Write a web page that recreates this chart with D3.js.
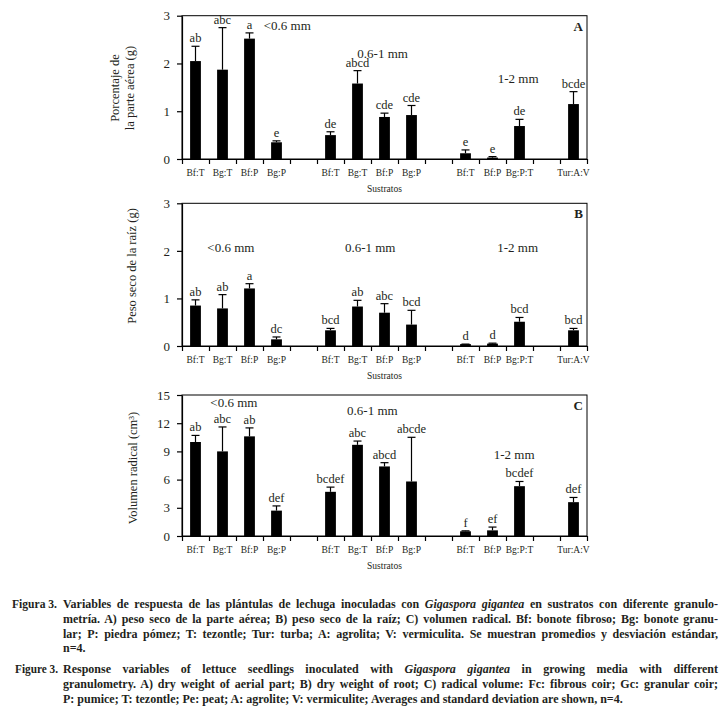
<!DOCTYPE html>
<meta charset="utf-8">
<svg width="723" height="716"></svg>
<script src="https://d3js.org/d3.v7.min.js"></script>
<style>
    body {
        margin: 0;
        background: #fff;
    }

    text {
        font-family: "Liberation Serif", "DejaVu Serif", serif;
        fill: #231f20;
    }

    .domain,
    line {
        stroke: #000;
    }
</style>
<script>
    // slot index of each bar on the x axis (gaps at 4, 9, 13)
    var slots = [0, 1, 2, 3, 5, 6, 7, 8, 10, 11, 12, 14];
    var tickLabels = ["Bf:T", "Bg:T", "Bf:P", "Bg:P", "Bf:T", "Bg:T", "Bf:P", "Bg:P", "Bf:T", "Bf:P", "Bg:P:T", "Tur:A:V"];
    var groupLabels = ["<0.6 mm", "0.6-1 mm", "1-2 mm"];

    // A) peso seco de la parte aérea
    var meanA = [2.05, 1.87, 2.52, 0.35, 0.50, 1.58, 0.88, 0.92, 0.12, 0.03, 0.69, 1.15];
    var sdA = [0.31, 0.88, 0.12, 0.03, 0.07, 0.27, 0.08, 0.20, 0.07, 0.02, 0.14, 0.26];
    var letA = ["ab", "abc", "a", "e", "de", "abcd", "cde", "cde", "e", "e", "de", "bcde"];

    // B) peso seco de la raíz
    var meanB = [0.85, 0.79, 1.21, 0.14, 0.33, 0.83, 0.70, 0.45, 0.04, 0.05, 0.51, 0.33];
    var sdB = [0.12, 0.29, 0.10, 0.05, 0.04, 0.13, 0.19, 0.30, 0.00, 0.01, 0.09, 0.04];
    var letB = ["ab", "ab", "a", "dc", "bcd", "ab", "abc", "bcd", "d", "d", "bcd", "bcd"];

    // C) volumen radical
    var meanC = [10.0, 9.0, 10.6, 2.7, 4.7, 9.7, 7.4, 5.8, 0.5, 0.6, 5.3, 3.6];
    var sdC = [0.7, 2.6, 0.9, 0.5, 0.5, 0.4, 0.4, 4.7, 0.05, 0.35, 0.5, 0.5];
    var letC = ["ab", "abc", "ab", "def", "bcdef", "abc", "abcd", "abcde", "f", "ef", "bcdef", "def"];

    var svg = d3.select("svg");
    svg.append("rect").attr("width", 723).attr("height", 716).attr("fill", "#fff");

    var x0 = 182, x1 = 587, nSlots = 15;
    var x = d3.scaleBand().domain(d3.range(nSlots)).range([x0, x1]).padding(0);
    var xb = d3.scaleLinear().domain([0, nSlots]).range([x0, x1]);
    var barW = x.bandwidth() * 0.4;

    var panels = [
        { id: "A", top: 15.7, bottom: 159, max: 3, ticks: [0, 1, 2, 3], mean: meanA, sd: sdA, let: letA,
          title: ["Porcentaje de", "la parte aérea (g)"], titleX: [119, 134], titleY: 88,
          groups: [[3.9, 2.7], [7.43, 2.12], [12.45, 1.6]] },
        { id: "B", top: 203.3, bottom: 346, max: 3, ticks: [0, 1, 2, 3], mean: meanB, sd: sdB, let: letB,
          title: ["Peso seco de la raíz (g)"], titleX: [136], titleY: 266,
          groups: [[1.81, 1.98], [6.97, 1.98], [12.43, 1.98]] },
        { id: "C", top: 395, bottom: 536, max: 15, ticks: [0, 3, 6, 9, 12, 15], mean: meanC, sd: sdC, let: letC,
          title: ["Volumen radical (cm³)"], titleX: [137], titleY: 468,
          groups: [[1.92, 13.75], [7.05, 12.9], [12.3, 8.2]] }
    ];

    panels.forEach(function (p) {
        var y = d3.scaleLinear().domain([0, p.max]).range([p.bottom, p.top]);
        var g = svg.append("g");

        // frame
        g.append("rect")
            .attr("x", x0).attr("y", p.top)
            .attr("width", x1 - x0).attr("height", p.bottom - p.top)
            .attr("fill", "none").attr("stroke", "#000").attr("stroke-width", 1);

        // bars
        g.selectAll(".bar").data(p.mean).enter().append("rect")
            .attr("x", function (d, i) { return x(slots[i]) + (x.bandwidth() - barW) / 2; })
            .attr("y", function (d) { return y(d); })
            .attr("width", barW)
            .attr("height", function (d) { return y(0) - y(d); })
            .attr("fill", "#000");

        // error bars (upper only)
        var eb = g.selectAll(".err").data(p.mean).enter().append("g");
        eb.append("line")
            .attr("x1", function (d, i) { return x(slots[i]) + x.bandwidth() / 2; })
            .attr("x2", function (d, i) { return x(slots[i]) + x.bandwidth() / 2; })
            .attr("y1", function (d) { return y(d); })
            .attr("y2", function (d, i) { return y(d + p.sd[i]); })
            .attr("stroke-width", 1.2);
        eb.append("line")
            .attr("x1", function (d, i) { return x(slots[i]) + x.bandwidth() / 2 - 4; })
            .attr("x2", function (d, i) { return x(slots[i]) + x.bandwidth() / 2 + 4; })
            .attr("y1", function (d, i) { return y(d + p.sd[i]); })
            .attr("y2", function (d, i) { return y(d + p.sd[i]); })
            .attr("stroke-width", 1.2);

        // significance letters
        g.selectAll(".let").data(p.let).enter().append("text")
            .attr("x", function (d, i) { return x(slots[i]) + x.bandwidth() / 2; })
            .attr("y", function (d, i) { return y(p.mean[i] + p.sd[i]) - 4; })
            .attr("text-anchor", "middle")
            .attr("font-size", "12.5px")
            .text(function (d) { return d; });

        // granulometry labels
        g.selectAll(".grp").data(groupLabels).enter().append("text")
            .attr("x", function (d, i) { return xb(p.groups[i][0]); })
            .attr("y", function (d, i) { return y(p.groups[i][1]); })
            .attr("text-anchor", "middle")
            .attr("font-size", "13px")
            .text(function (d) { return d; });

        // panel letter
        g.append("text")
            .attr("x", x1 - 4).attr("y", p.top + 15)
            .attr("text-anchor", "end")
            .attr("font-size", "13px")
            .attr("font-weight", "bold")
            .text(p.id);

        // y axis
        var ya = g.append("g")
            .attr("transform", "translate(" + x0 + ",0)")
            .call(d3.axisLeft(y).tickValues(p.ticks).tickFormat(d3.format("d"))
                .tickSize(5).tickSizeOuter(0).tickPadding(7));
        ya.selectAll("text").attr("font-size", "13px").attr("font-family", null);
        ya.selectAll("line").attr("stroke-width", 1.2);
        ya.select(".domain").attr("stroke-width", 1.2);

        // x axis: ticks at slot boundaries
        var xa = g.append("g")
            .attr("transform", "translate(0," + p.bottom + ")")
            .call(d3.axisBottom(xb).tickValues(d3.range(nSlots + 1)).tickSize(5).tickSizeOuter(0).tickFormat(""));
        xa.selectAll("line").attr("stroke-width", 1.2);
        xa.select(".domain").attr("stroke-width", 1.2);

        // x labels at slot centres
        var xl = g.append("g")
            .attr("transform", "translate(0," + p.bottom + ")")
            .call(d3.axisBottom(x).tickValues(slots).tickSize(0).tickPadding(10)
                .tickFormat(function (s) { return tickLabels[slots.indexOf(s)]; }));
        xl.select(".domain").remove();
        xl.selectAll("text").attr("font-size", "9.5px").attr("font-family", null);

        g.append("text")
            .attr("x", (x0 + x1) / 2).attr("y", p.bottom + 33)
            .attr("text-anchor", "middle")
            .attr("font-size", "9.5px")
            .text("Sustratos");

        // y title
        p.title.forEach(function (t, i) {
            g.append("text")
                .attr("transform", "translate(" + p.titleX[i] + "," + p.titleY + ") rotate(-90)")
                .attr("text-anchor", "middle")
                .attr("font-size", "12.5px")
                .text(t);
        });
    });

    // caption
    var cap = svg.append("g").attr("font-size", "12px").attr("font-weight", "bold");
    var capX = 63, capR = 718;
    var lines = [
        { y: 608, just: true, parts: [["Variables de respuesta de las plántulas de lechuga inoculadas con "], ["Gigaspora gigantea", 1], [" en sustratos con diferente granulo-"]] },
        { y: 623, just: true, parts: [["metría. A) peso seco de la parte aérea; B) peso seco de la raíz; C) volumen radical. Bf: bonote fibroso; Bg: bonote granu-"]] },
        { y: 637.5, just: true, parts: [["lar; P: piedra pómez; T: tezontle; Tur: turba; A: agrolita; V: vermiculita. Se muestran promedios y desviación estándar,"]] },
        { y: 652, just: false, parts: [["n=4."]] },
        { y: 673, just: true, parts: [["Response variables of lettuce seedlings inoculated with "], ["Gigaspora gigantea", 1], [" in growing media with different"]] },
        { y: 688, just: true, parts: [["granulometry. A) dry weight of aerial part; B) dry weight of root; C) radical volume: Fc: fibrous coir; Gc: granular coir;"]] },
        { y: 702.5, just: false, parts: [["P: pumice; T: tezontle; Pe: peat; A: agrolite; V: vermiculite; Averages and standard deviation are shown, n=4."]] }
    ];
    cap.append("text").attr("x", 12).attr("y", 608)
        .attr("textLength", 45).attr("lengthAdjust", "spacingAndGlyphs").text("Figura 3.");
    cap.append("text").attr("x", 15).attr("y", 673)
        .attr("textLength", 43).attr("lengthAdjust", "spacingAndGlyphs").text("Figure 3.");
    lines.forEach(function (l) {
        var t = cap.append("text").attr("x", capX).attr("y", l.y);
        l.parts.forEach(function (pt) {
            var s = t.append("tspan").text(pt[0]);
            if (pt[1]) s.attr("font-style", "italic");
        });
        if (l.just) {
            var nat = t.node().getComputedTextLength();
            var spaces = t.text().split(" ").length - 1;
            t.attr("word-spacing", (capR - capX - nat) / spaces);
        }
    });
</script>
